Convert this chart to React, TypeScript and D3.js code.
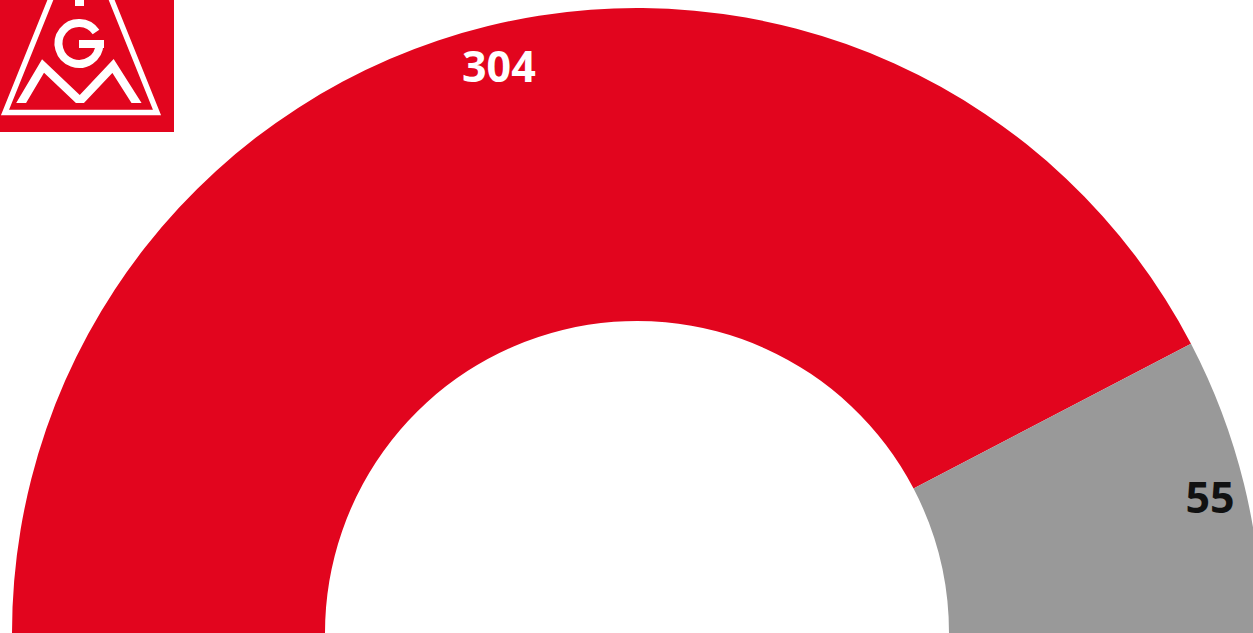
import React from "react";
import * as d3 from "d3";

const categories = ["Ja", "Nein"];
const values = [304, 55];
const colors = ["#e2051e", "#999999"];
const labelColors = ["#ffffff", "#111111"];

const W = 1253;
const H = 633;

function Logo() {
  return (
    <g>
      <defs>
        <clipPath id="mclip">
          <rect x={0} y={0} width={174} height={103} />
        </clipPath>
        <clipPath id="logoclip">
          <rect x={0} y={0} width={174} height={132} />
        </clipPath>
      </defs>
      <rect x={0} y={0} width={174} height={132} fill="#e2051e" />
      <g clipPath="url(#logoclip)">
        <polygon
          points="81,-76 5,112.5 157,112.5"
          fill="none"
          stroke="#ffffff"
          strokeWidth={5.5}
          strokeLinejoin="miter"
        />
      </g>
      <rect x={75} y={0} width={9} height={6} fill="#ffffff" />
      <path
        d="M 96 32 A 20.5 20.5 0 1 0 99.5 44"
        fill="none"
        stroke="#ffffff"
        strokeWidth={8}
      />
      <rect x={79} y={40} width={25} height={8} fill="#ffffff" />
      <g clipPath="url(#mclip)">
        <polyline
          points="17,110 43,66 80,101 113,66 141,110"
          fill="none"
          stroke="#ffffff"
          strokeWidth={8.5}
          strokeLinejoin="miter"
        />
      </g>
    </g>
  );
}

export default function App() {
  const cx = 637;
  const cy = 633;
  const rOuter = 625;
  const rInner = 312;
  const rLabel = 588;

  const pie = d3
    .pie<number>()
    .sort(null)
    .startAngle(-Math.PI / 2)
    .endAngle(Math.PI / 2)
    .value((d) => d);
  const arcs = pie(values);
  const arcGen = d3
    .arc<d3.PieArcDatum<number>>()
    .innerRadius(rInner)
    .outerRadius(rOuter);
  const labelArc = d3
    .arc<d3.PieArcDatum<number>>()
    .innerRadius(rLabel)
    .outerRadius(rLabel);

  return (
    <div style={{ position: "fixed", left: 0, top: 0, width: W, height: H, background: "#fff" }}>
      <svg width={W} height={H} style={{ display: "block" }}>
        <g transform={`translate(${cx},${cy})`}>
          {arcs.map((a, i) => (
            <path key={categories[i]} d={arcGen(a) || ""} fill={colors[i]} />
          ))}
          {arcs.map((a, i) => {
            const [x, y] = labelArc.centroid(a);
            return (
              <text
                key={"l" + categories[i]}
                x={x + 2}
                y={y + 4}
                textAnchor="middle"
                dominantBaseline="central"
                fontFamily="'Open Sans', 'Noto Sans', sans-serif"
                fontWeight={700}
                fontSize={43}
                fill={labelColors[i]}
              >
                {values[i]}
              </text>
            );
          })}
        </g>
        <Logo />
      </svg>
    </div>
  );
}
